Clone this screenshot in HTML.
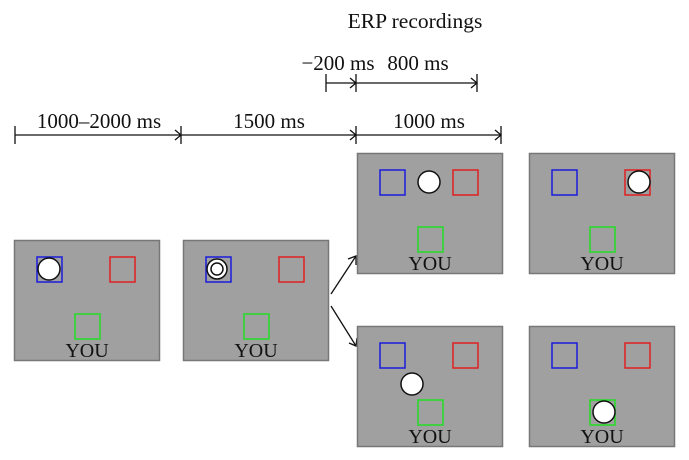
<!DOCTYPE html>
<html><head><style>
html,body{margin:0;padding:0;background:#fff;}
svg{display:block;}
text{font-family:"Liberation Serif",serif;fill:#111;}
</style></head><body>
<svg width="689" height="460" viewBox="0 0 689 460" xmlns="http://www.w3.org/2000/svg">
<defs>
<g id="p">
<rect x="0.5" y="0.5" width="145" height="120" fill="#a0a0a0" stroke="#777" stroke-width="1.5"/>
<rect x="23" y="17" width="25" height="25" fill="none" stroke="#1a1adc" stroke-width="1.5"/>
<rect x="96" y="17" width="25" height="25" fill="none" stroke="#e02020" stroke-width="1.5"/>
<rect x="61" y="74" width="25" height="25" fill="none" stroke="#22dd22" stroke-width="1.5"/>
<text x="73" y="117" font-size="20" text-anchor="middle">YOU</text>
</g>
</defs>
<g stroke="#111" stroke-width="1.3" fill="none">
<line x1="15" y1="135" x2="501" y2="135"/>
<line x1="15" y1="126" x2="15" y2="144"/>
<line x1="181" y1="126" x2="181" y2="144"/>
<line x1="356" y1="126" x2="356" y2="144"/>
<line x1="501" y1="126" x2="501" y2="144"/>
<polyline points="175,130 181,135 175,140"/>
<polyline points="350,130 356,135 350,140"/>
<polyline points="495,130 501,135 495,140"/>
<line x1="326" y1="83" x2="477" y2="83"/>
<line x1="326" y1="74" x2="326" y2="92"/>
<line x1="356" y1="74" x2="356" y2="92"/>
<line x1="477" y1="74" x2="477" y2="92"/>
<polyline points="350,78 356,83 350,88"/>
<polyline points="471,78 477,83 471,88"/>
<line x1="331" y1="294" x2="356" y2="256"/>
<polyline points="348,259 356,256 356,265"/>
<line x1="331" y1="306" x2="356" y2="346"/>
<polyline points="349,343 356,346 357,338"/>
</g>
<text x="415" y="28" font-size="21.5" text-anchor="middle">ERP recordings</text>
<text x="338" y="70" font-size="21" text-anchor="middle">−200 ms</text>
<text x="418" y="70" font-size="21" text-anchor="middle">800 ms</text>
<text x="99" y="128" font-size="21" text-anchor="middle">1000–2000 ms</text>
<text x="269" y="128" font-size="21" text-anchor="middle">1500 ms</text>
<text x="429" y="128" font-size="21" text-anchor="middle">1000 ms</text>
<use href="#p" x="14" y="240"/>
<use href="#p" x="183" y="240"/>
<use href="#p" x="357" y="153"/>
<use href="#p" x="529" y="153"/>
<use href="#p" x="357" y="326"/>
<use href="#p" x="529" y="326"/>
<g fill="#fff" stroke="#111" stroke-width="1.5">
<circle cx="49" cy="269" r="11"/>
<circle cx="217" cy="269" r="10"/>
<circle cx="217" cy="269" r="6"/>
<circle cx="429" cy="182" r="11"/>
<circle cx="639" cy="182" r="11"/>
<circle cx="412" cy="384" r="11"/>
<circle cx="604" cy="412" r="11"/>
</g>
</svg>
</body></html>
